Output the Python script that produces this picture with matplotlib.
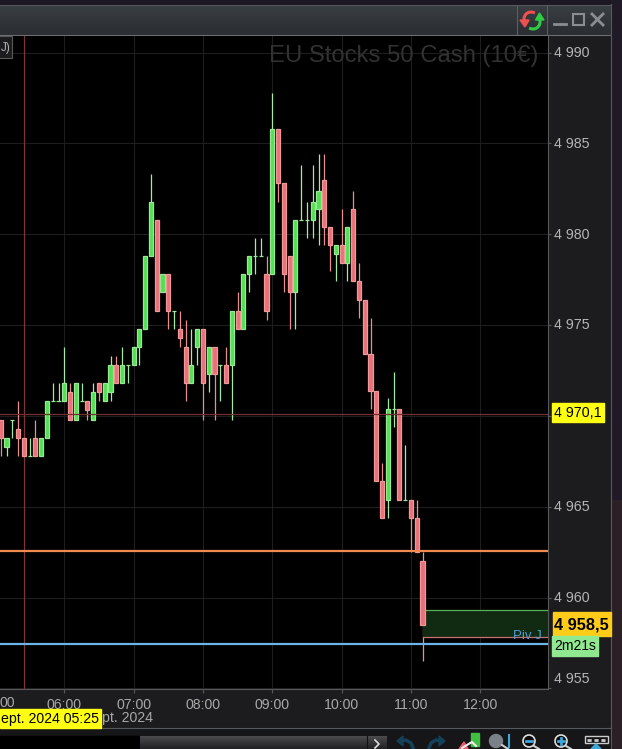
import numpy as np
import matplotlib
matplotlib.use("Agg")
import matplotlib.pyplot as plt
from matplotlib.colors import LinearSegmentedColormap
from matplotlib.patches import Rectangle, Circle, Polygon
from matplotlib.transforms import ScaledTranslation

# candles, 5 minute bars, first one at 05:05
start_minute = 5
opens = [4969.8, 4968.3, 4969.8, 4969.3, 4968.8, 4967.8, 4968.8, 4967.8, 4968.8, 4970.8, 4970.8,
         4970.8, 4971.3, 4969.8, 4970.8, 4970.8, 4969.8, 4971.8, 4970.8, 4971.3, 4972.8, 4971.8, 4972.8,
         4972.8, 4973.8, 4974.8, 4978.8, 4980.8, 4976.8, 4977.8, 4975.8, 4974.8, 4973.8, 4971.8, 4973.8,
         4974.8, 4972.3, 4973.8, 4972.8, 4972.8, 4972.8, 4975.8, 4974.8, 4977.8, 4978.8, 4978.8, 4977.8,
         4977.8, 4985.8, 4982.8, 4978.8, 4976.8, 4980.8, 4980.8, 4980.8, 4981.4, 4983.0, 4980.4, 4978.9,
         4979.4, 4978.4, 4981.4, 4977.4, 4976.4, 4973.4, 4971.4, 4966.4, 4965.4, 4970.4, 4970.4, 4965.4,
         4965.4, 4964.4, 4962.0]
highs = [4969.8, 4968.8, 4969.8, 4970.8, 4968.8, 4968.8, 4969.8, 4968.8, 4970.8, 4971.8, 4971.8,
         4973.8, 4971.8, 4971.8, 4971.8, 4970.8, 4971.8, 4971.8, 4971.8, 4973.3, 4973.3, 4973.8, 4972.8,
         4973.8, 4974.8, 4978.8, 4983.3, 4980.8, 4977.8, 4977.8, 4975.8, 4975.8, 4975.3, 4974.8, 4974.8,
         4974.8, 4973.8, 4973.8, 4972.8, 4973.8, 4975.8, 4976.8, 4977.8, 4978.8, 4979.8, 4979.8, 4978.8,
         4987.8, 4985.8, 4982.8, 4978.8, 4980.8, 4983.8, 4981.8, 4983.8, 4984.4, 4984.4, 4980.4, 4979.4,
         4981.4, 4980.4, 4982.4, 4978.4, 4976.4, 4975.4, 4971.4, 4967.4, 4971.0, 4972.4, 4970.4, 4968.4,
         4965.4, 4965.4, 4962.5]
lows = [4967.8, 4967.8, 4968.8, 4967.8, 4967.8, 4967.8, 4967.8, 4967.8, 4968.8, 4970.8, 4970.8,
        4970.8, 4969.8, 4969.8, 4970.8, 4969.8, 4969.8, 4970.8, 4970.8, 4970.8, 4971.8, 4971.8, 4971.8,
        4972.8, 4972.8, 4974.8, 4978.8, 4975.8, 4976.8, 4974.8, 4974.8, 4973.8, 4970.8, 4971.8, 4972.8,
        4969.8, 4971.3, 4969.8, 4970.8, 4971.8, 4969.8, 4974.8, 4974.8, 4976.8, 4977.8, 4978.8, 4975.3,
        4977.8, 4981.8, 4976.8, 4974.8, 4974.8, 4980.8, 4979.8, 4979.8, 4979.4, 4979.4, 4978.0, 4977.4,
        4978.4, 4977.4, 4977.4, 4975.4, 4973.4, 4970.4, 4966.4, 4964.4, 4964.4, 4969.4, 4965.4, 4965.4,
        4962.5, 4962.5, 4956.5]
closes = [4968.8, 4968.8, 4969.8, 4968.8, 4967.8, 4967.8, 4967.8, 4968.8, 4970.8, 4970.8, 4970.8,
          4971.8, 4969.8, 4971.8, 4970.8, 4970.3, 4971.3, 4971.3, 4971.8, 4972.8, 4971.8, 4972.8, 4972.8,
          4973.8, 4974.8, 4978.8, 4981.8, 4975.8, 4977.8, 4975.8, 4975.8, 4974.3, 4971.8, 4972.8, 4974.8,
          4971.8, 4973.8, 4972.3, 4972.8, 4971.8, 4975.8, 4974.8, 4977.8, 4978.8, 4978.8, 4978.8, 4975.8,
          4985.8, 4982.8, 4977.8, 4976.8, 4980.8, 4980.8, 4980.8, 4981.8, 4982.4, 4980.4, 4979.4, 4979.4,
          4978.4, 4980.4, 4977.4, 4976.4, 4973.4, 4971.4, 4966.4, 4964.4, 4970.4, 4970.4, 4965.4, 4965.4,
          4964.4, 4962.5, 4958.5]

hour_ticks = [60, 120, 180, 240, 300, 360, 420]
hour_labels = ["06:00", "07:00", "08:00", "09:00", "10:00", "11:00", "12:00"]
price_ticks = [4955, 4960, 4965, 4970, 4975, 4980, 4985, 4990]
price_labels = ["", "4 960", "4 965", "", "4 975", "4 980", "4 985", "4 990"]

cross_minute = 25
cross_price = 4970.1
orange_level = 4962.55
blue_level = 4957.45
zone_top = 4959.3
zone_bottom = 4957.85
zone_start = 370
last_price = 4958.5

X_MIN, X_MAX = 4.36, 478.6

W, H = 622, 749
plt.rcParams["font.family"] = ["Liberation Sans", "DejaVu Sans"]
fig = plt.figure(figsize=(W / 100, H / 100), dpi=100, facecolor="#1c1c1e")

# whole figure in pixels, for the window frame and toolbar
bg = fig.add_axes([0, 0, 1, 1], zorder=0)
bg.axis("off")
bg.add_patch(Rectangle((0, 0), W, 5, color="#1d1724"))
bg.add_patch(Rectangle((611, 0), 11, 500, color="#1f1a26"))
bg.add_patch(Rectangle((611, 500), 11, 249, color="#2a2026"))
bg.imshow(np.linspace(0, 1, 30).reshape(-1, 1), extent=(0, 611, 35, 5), aspect="auto",
          cmap=LinearSegmentedColormap.from_list("t", ["#3a3f44", "#2a2d31"]), zorder=1)
bg.add_patch(Rectangle((0, 729), 611, 20, color="#161618", zorder=1))
bg.add_patch(Rectangle((0, 736), 140, 13, color="#000000", zorder=2))
bg.imshow(np.linspace(0, 1, 13).reshape(-1, 1), extent=(140, 387, 749, 736), aspect="auto",
          cmap=LinearSegmentedColormap.from_list("s", ["#4a4a4c", "#222224"]), zorder=2)
bg.set_xlim(0, W)
bg.set_ylim(H, 0)
bg.plot([517, 517], [5, 35], color="#5a5e62", lw=0.8, zorder=2)
bg.plot([547, 547], [5, 35], color="#5a5e62", lw=0.8, zorder=2)
bg.plot([0, 611], [35, 35], color="#6a6e72", lw=0.8, zorder=2)
bg.plot([611, 611], [4, 749], color="#55585c", lw=0.8, zorder=2)
bg.plot([0, 611], [4.5, 4.5], color="#55585c", lw=0.8, zorder=2)
bg.plot([0, 611], [728, 728], color="#55585c", lw=0.8, zorder=2)
bg.plot([367, 367], [736, 749], color="#111111", lw=0.8, zorder=3)
bg.plot([375, 379, 375], [740, 744, 748], color="#dddddd", lw=1.2, zorder=3)

# refresh arrows on the title bar
t = np.radians(np.linspace(70, 190, 20))
bg.plot(531 + 7 * np.cos(t), 19 - 7 * np.sin(t), color="#f05050", lw=2.2, zorder=3)
bg.add_patch(Polygon([[520, 20], [529, 20], [525, 27]], color="#f05050", zorder=3))
t = np.radians(np.linspace(250, 370, 20))
bg.plot(533 + 7 * np.cos(t), 22 - 7 * np.sin(t), color="#2ecc40", lw=2.2, zorder=3)
bg.add_patch(Polygon([[535.5, 20], [544, 20], [539.5, 13]], color="#2ecc40", zorder=3))

# window buttons
bg.plot([554, 566], [24, 24], color="#8a8e92", lw=2, zorder=3)
bg.add_patch(Rectangle((573, 14), 11, 11, fill=False, ec="#8a8e92", lw=1.5, zorder=3))
bg.plot([592, 603], [14, 25], color="#8a8e92", lw=2, zorder=3)
bg.plot([592, 603], [25, 14], color="#8a8e92", lw=2, zorder=3)

# toolbar icons
bg.plot([413, 411, 406, 401], [748, 743, 740, 741], color="#14405a", lw=2.5, zorder=3)
bg.add_patch(Polygon([[397, 741], [403, 736], [403, 746]], color="#14405a", zorder=3))
bg.plot([429, 431, 436, 441], [748, 743, 740, 741], color="#14405a", lw=2.5, zorder=3)
bg.add_patch(Polygon([[445, 741], [439, 736], [439, 746]], color="#14405a", zorder=3))
bg.add_patch(Polygon([[459, 749], [464, 742], [468, 749]], color="#e85a6a", zorder=3))
bg.add_patch(Rectangle((471, 733), 8, 13, color="#40c040", zorder=3))
bg.plot([462, 472, 476], [748, 742, 746], color="#eeeeee", lw=1.5, zorder=4)
bg.add_patch(Circle((496, 741), 6.5, color="#7a8288", zorder=3))
bg.plot([509, 509], [735, 747], color="#3aa8d8", lw=1.5, zorder=3)
bg.plot([502, 508], [745, 749], color="#cccccc", lw=1.5, zorder=3)
bg.add_patch(Circle((529, 741), 6, fc="#0b0b0b", ec="#dddddd", lw=1.2, zorder=3))
bg.plot([526, 532], [741, 741], color="#3aa8d8", lw=2, zorder=4)
bg.plot([534, 539], [746, 749], color="#cccccc", lw=1.5, zorder=3)
bg.add_patch(Circle((561, 741), 6, fc="#0b0b0b", ec="#dddddd", lw=1.2, zorder=3))
bg.plot([558, 564], [741, 741], color="#3aa8d8", lw=2, zorder=4)
bg.plot([561, 561], [738, 744], color="#3aa8d8", lw=2, zorder=4)
bg.plot([566, 571], [746, 749], color="#cccccc", lw=1.5, zorder=3)
bg.add_patch(Rectangle((585, 736), 23, 7, fc="#111111", ec="#cccccc", lw=1, zorder=3))
bg.plot([587, 606], [739.5, 739.5], color="#cccccc", lw=2, ls=(0, (1.5, 1)), zorder=4)
bg.add_patch(Polygon([[591, 749], [596, 744], [601, 749]], color="#3aa8d8", zorder=3))

# price chart, pixel box x 0-548, y 36-688
ax = fig.add_axes([0, 1 - 688.5 / H, 548 / W, (688.5 - 36) / H], zorder=2)
ax.set_facecolor("#000000")

for s in ["top", "left"]:
    ax.spines[s].set_visible(False)
for s in ["bottom", "right"]:
    ax.spines[s].set_color("#58585a")
    ax.spines[s].set_linewidth(0.8)

ax.set_xticks(hour_ticks)
ax.set_xticklabels(hour_labels, color="#a8a8a8", fontsize=10.2)
ax.yaxis.tick_right()
ax.set_yticks(price_ticks)
ax.set_yticklabels(price_labels, color="#b4b4b4", fontsize=10.3)
ax.set_xlim(X_MIN, X_MAX)
ax.set_ylim(4955.0, 4990.91)
ax.tick_params(axis="x", length=3, width=0.8, color="#58585a", pad=4)
ax.tick_params(axis="y", length=2, width=0.8, color="#58585a", pad=2.2)
ax.grid(True, color="#1e1e1e", lw=0.8)
ax.set_axisbelow(True)

# price labels sit a little above their ticks
up_shift = ScaledTranslation(0, 1.2 / 100, fig.dpi_scale_trans)
for label in ax.get_yticklabels():
    label.set_transform(label.get_transform() + up_shift)

ax.text(0.982, 0.970, "EU Stocks 50 Cash (10€)", transform=ax.transAxes, ha="right", va="center",
        color="#323232", fontsize=17.2, zorder=1)

# crosshair
ax.axvline(cross_minute, color="#7c3434", lw=0.9, zorder=1.5)
ax.axhline(cross_price, color="#743030", lw=0.9, zorder=4)

times = start_minute + 5 * np.arange(len(opens))
opens = np.array(opens)
highs = np.array(highs)
lows = np.array(lows)
closes = np.array(closes)
up = closes >= opens
body_w = 3.6

ax.vlines(times[up], lows[up], highs[up], color="#a4eaa4", lw=0.9, zorder=2)
ax.vlines(times[~up], lows[~up], highs[~up], color="#e89090", lw=0.9, zorder=2)
ax.bar(times[up], (closes - opens)[up], bottom=opens[up], width=body_w,
       color="#50e050", edgecolor="#98e898", lw=0.9, zorder=3)
ax.bar(times[~up], (closes - opens)[~up], bottom=opens[~up], width=body_w,
       color="#e8707a", edgecolor="#f09898", lw=0.9, zorder=3)

# signal zone after the last candle
ax.add_patch(Rectangle((zone_start, zone_bottom), X_MAX - zone_start, zone_top - zone_bottom,
                       fc="#112a12", ec="none", zorder=2.5))
ax.hlines(zone_top, zone_start, X_MAX, color="#58b058", lw=0.9, zorder=2.6)
ax.hlines(zone_bottom, zone_start, X_MAX, color="#c87070", lw=0.9, zorder=2.6)

ax.axhline(orange_level, color="#f08a50", lw=1.6, zorder=4)
ax.axhline(blue_level, color="#6cb4e8", lw=1.6, zorder=4)
ax.text(0.988, blue_level + 0.12, "Piv J", transform=ax.get_yaxis_transform(), ha="right", va="bottom",
        color="#4aa0d8", fontsize=9.5, zorder=5)

# labels placed over the axes, in pixels
top = fig.add_axes([0, 0, 1, 1], zorder=5)
top.set_xlim(0, W)
top.set_ylim(H, 0)
top.axis("off")
top.patch.set_alpha(0)
top.add_patch(Rectangle((-2, 36), 13.5, 22, fc="#1c1c1e", ec="#5a5a5a", lw=0.8))
top.text(1, 47.5, "J)", color="#b0b0b0", fontsize=8.5, ha="left", va="center")

top.text(0, 703, "00", color="#a8a8a8", fontsize=10.2, va="center")
top.text(554, 679, "4 955", color="#b4b4b4", fontsize=10.3, va="center")
top.add_patch(Rectangle((552, 403), 52, 19, color="#ffff14"))
top.text(554, 413, "4 970,1", color="#000000", fontsize=10.3, va="center")
top.add_patch(Rectangle((553, 612), 58, 24, color="#ffcc1a"))
top.text(554, 625, "4 958,5", color="#000000", fontsize=11.8, weight="bold", va="center")
top.add_patch(Rectangle((552, 636), 46, 20, color="#90e890"))
top.text(554, 646.5, "2m21s", color="#000000", fontsize=10, va="center")

top.text(153, 718, "pt. 2024", color="#a8a8a8", fontsize=10.2, ha="right", va="center")
top.add_patch(Rectangle((0, 709), 101, 19, color="#ffff14"))
top.text(99, 719, "ept. 2024 05:25", color="#000000", fontsize=10.2, ha="right", va="center")

fig.savefig("out.png", dpi=100, facecolor=fig.get_facecolor())
